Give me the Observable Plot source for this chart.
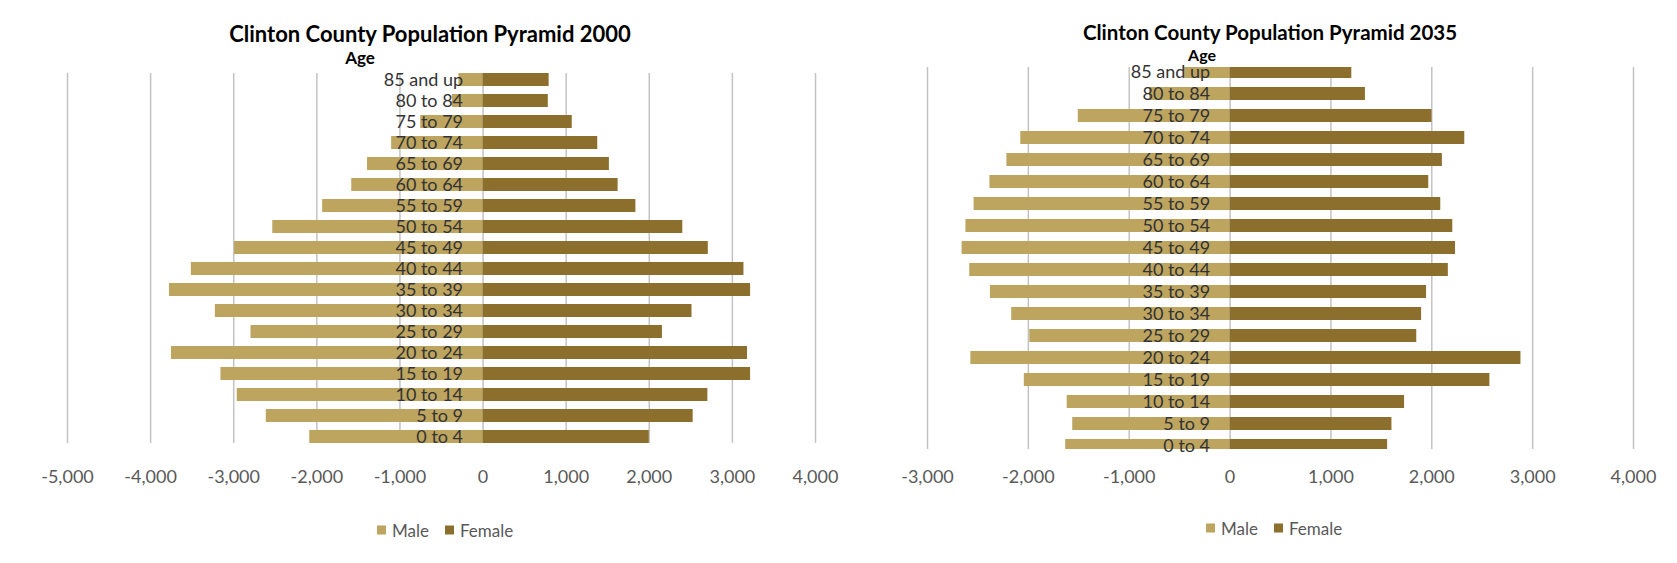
<!DOCTYPE html>
<html>
<head>
<meta charset="utf-8">
<script src="https://cdn.jsdelivr.net/npm/d3@7"></script>
<script src="https://cdn.jsdelivr.net/npm/@observablehq/plot@0.6"></script>
<style>
  body { margin: 0; background: #fff; }
  #wrap { position: relative; width: 1677px; height: 563px; overflow: hidden; font-family: Lato, "Open Sans", sans-serif; }
  .title { position: absolute; font-weight: bold; font-size: 21px; color: #000; white-space: nowrap; transform: translate(-50%, -50%); }
  .age { position: absolute; font-weight: bold; font-size: 16px; color: #000; transform: translate(-50%, -50%); }
  .legend { position: absolute; display: flex; align-items: center; font-size: 17px; color: #595959; transform: translate(0, -50%); white-space: nowrap; }
  .sw { display: inline-block; width: 9px; height: 9px; margin-right: 6px; }
  .item { display: flex; align-items: center; margin-right: 16px; }
  #wrap svg { position: absolute; top: 0; }
</style>
</head>
<body>
<div id="wrap"></div>
<script>
// ---- Data ----
const ages = ["0 to 4", "5 to 9", "10 to 14", "15 to 19", "20 to 24", "25 to 29", "30 to 34", "35 to 39",
  "40 to 44", "45 to 49", "50 to 54", "55 to 59", "60 to 64", "65 to 69", "70 to 74", "75 to 79", "80 to 84", "85 and up"];
const male2000   = [2085, 2608, 2958, 3154, 3749, 2792, 3221, 3773, 3510, 2990, 2530, 1930, 1580, 1390, 1100, 750, 370, 290];
const female2000 = [2000, 2528, 2705, 3219, 3182, 2158, 2514, 3219, 3139, 2710, 2403, 1839, 1625, 1520, 1380, 1073, 785, 795];
const male2035   = [1630, 1560, 1615, 2040, 2570, 1986, 2165, 2376, 2581, 2657, 2619, 2538, 2381, 2213, 2075, 1505, 798, 450];
const female2035 = [1562, 1605, 1730, 2576, 2884, 1851, 1899, 1948, 2164, 2235, 2208, 2089, 1970, 2105, 2327, 2002, 1342, 1207];
const ticks2000 = [-5000, -4000, -3000, -2000, -1000, 0, 1000, 2000, 3000, 4000];
const ticks2035 = [-3000, -2000, -1000, 0, 1000, 2000, 3000, 4000];
const sexes = ["Male", "Female"];
const colors = ["#bea55f", "#8c6e2d"];
const titles = ["Clinton County Population Pyramid 2000", "Clinton County Population Pyramid 2035"];

const fmt = d => (d < 0 ? "-" : "") + d3.format(",")(Math.abs(d));

function rowsOf(male, female) {
  return ages.flatMap((a, i) => [
    {age: a, sex: "Male", v: -male[i]},
    {age: a, sex: "Female", v: female[i]}
  ]);
}

function pyramid({male, female, ticks, left, width, mLeft, mRight, top, bottom, tickPad}) {
  const n = ages.length;
  const step = (bottom - top) / (n - 1);
  const bw = 13;
  const pi = 1 - bw / step;
  const svg = Plot.plot({
    width, height: 563,
    marginLeft: mLeft, marginRight: mRight, marginTop: top, marginBottom: 563 - bottom,
    style: {fontFamily: "Lato, 'Open Sans', sans-serif", color: "#595959", background: "#fff"},
    x: {domain: [ticks[0], ticks[ticks.length - 1]], label: null},
    y: {domain: ages.slice().reverse(), range: [top - bw / 2, bottom + bw / 2], paddingInner: pi, paddingOuter: 0, axis: null, label: null},
    color: {domain: sexes, range: colors},
    marks: [
      Plot.gridX(ticks, {stroke: "#c3c3c3", strokeOpacity: 1, strokeWidth: 1.5}),
      Plot.barX(rowsOf(male, female), {x1: 0, x2: "v", y: "age", fill: "sex", clip: true}),
      Plot.axisX(ticks, {tickSize: 0, tickPadding: tickPad, tickFormat: fmt, fontSize: 18, fill: "#595959", label: null}),
      Plot.text(ages, {x: 0, y: d => d, text: d => d, textAnchor: "end", dx: -20, fontSize: 18, fill: "#333"})
    ]
  });
  svg.style.left = left + "px";
  return svg;
}

const wrap = document.getElementById("wrap");
wrap.appendChild(pyramid({male: male2000, female: female2000, ticks: ticks2000, left: 0, width: 845, mLeft: 67, mRight: 30, top: 73, bottom: 443, tickPad: 27}));
wrap.appendChild(pyramid({male: male2035, female: female2035, ticks: ticks2035, left: 860, width: 817, mLeft: 67, mRight: 44, top: 67, bottom: 449, tickPad: 21}));

function addDiv(cls, html, x, y, size) {
  const d = document.createElement("div");
  d.className = cls; d.innerHTML = html;
  d.style.left = x + "px"; d.style.top = y + "px";
  if (size) d.style.fontSize = size + "px";
  wrap.appendChild(d);
  return d;
}
addDiv("title", titles[0], 430, 33, 22);
addDiv("title", titles[1], 1270, 32, 20.5);
addDiv("age", "Age", 360, 57, 17);
addDiv("age", "Age", 1202, 54, 16);

function legend(x, y) {
  const html = sexes.map((s, i) => `<span class="item"><span class="sw" style="background:${colors[i]}"></span>${s}</span>`).join("");
  addDiv("legend", html, x, y);
}
legend(377, 530);
legend(1206, 528);
</script>
</body>
</html>
